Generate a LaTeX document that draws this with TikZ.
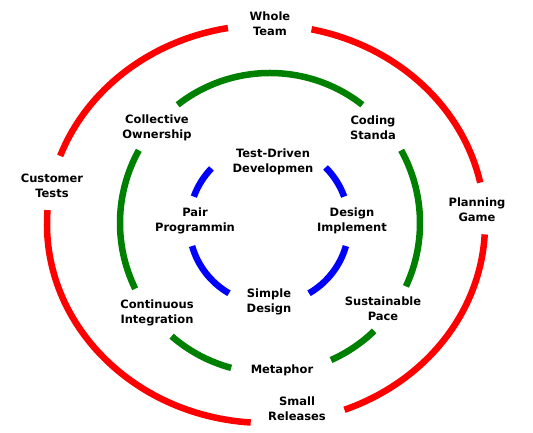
\documentclass[tikz,border=0pt]{standalone}
\usepackage{fontspec}
\setmainfont{DejaVu Sans}
\usepackage{tikz}
\usetikzlibrary{positioning}
\definecolor{xpred}{HTML}{FF0000}
\definecolor{xpgreen}{HTML}{008000}
\definecolor{xpblue}{HTML}{0000FF}

\begin{document}
\begin{tikzpicture}[
    x=1pt, y=1pt,
    practice/.style={align=center, font=\fontsize{11.5}{15}\selectfont\bfseries, inner sep=1pt},
    ring/.style={line width=6.5pt, draw=#1}
]
\useasboundingbox (0,0) rectangle (533,433);
\coordinate (outer) at (266,209);
\coordinate (middle) at (270,210);
\coordinate (inner) at (269,209);

\draw[ring=xpred] (outer) ++(12:219 and 199) arc[start angle=12, end angle=78, x radius=219, y radius=199];
\draw[ring=xpred] (outer) ++(100:219 and 199) arc[start angle=100, end angle=160, x radius=219, y radius=199];
\draw[ring=xpred] (outer) ++(176:219 and 199) arc[start angle=176, end angle=266, x radius=219, y radius=199];
\draw[ring=xpred] (outer) ++(291:219 and 199) arc[start angle=291, end angle=357, x radius=219, y radius=199];

\draw[ring=xpgreen] (middle) ++(52:150) arc[start angle=52, end angle=128, radius=150];
\draw[ring=xpgreen] (middle) ++(151:150) arc[start angle=151, end angle=206, radius=150];
\draw[ring=xpgreen] (middle) ++(229:150) arc[start angle=229, end angle=255, radius=150];
\draw[ring=xpgreen] (middle) ++(294:150) arc[start angle=294, end angle=314, radius=150];
\draw[ring=xpgreen] (middle) ++(335:150) arc[start angle=335, end angle=389, radius=150];

\draw[ring=xpblue] (inner) ++(20:80) arc[start angle=20, end angle=45, radius=80];
\draw[ring=xpblue] (inner) ++(136:80) arc[start angle=136, end angle=160, radius=80];
\draw[ring=xpblue] (inner) ++(196:80) arc[start angle=196, end angle=240, radius=80];
\draw[ring=xpblue] (inner) ++(300:80) arc[start angle=300, end angle=344, radius=80];

\node[practice] (team)       at (270,409) {Whole\\Team};
\node[practice] (customer)   at (52,247)  {Customer\\Tests};
\node[practice] (planning)   at (477,223) {Planning\\Game};
\node[practice] (releases)   at (297,24)  {Small\\Releases};
\node[practice] (ownership)  at (157,305) {Collective\\Ownership};
\node[practice] (standards)  at (373,305) {Coding\\Standa};
\node[practice] (integration) at (157,120) {Continuous\\Integration};
\node[practice] (metaphor)   at (282,63)  {Metaphor};
\node[practice] (pace)       at (383,124) {Sustainable\\Pace};
\node[practice] (tdd)        at (273,271) {Test-Driven\\Developmen};
\node[practice] (pairing)    at (195,212) {Pair\\Programmin};
\node[practice] (improve)    at (352,212) {Design\\Implement};
\node[practice] (simple)     at (269,131) {Simple\\Design};
\end{tikzpicture}
\end{document}
